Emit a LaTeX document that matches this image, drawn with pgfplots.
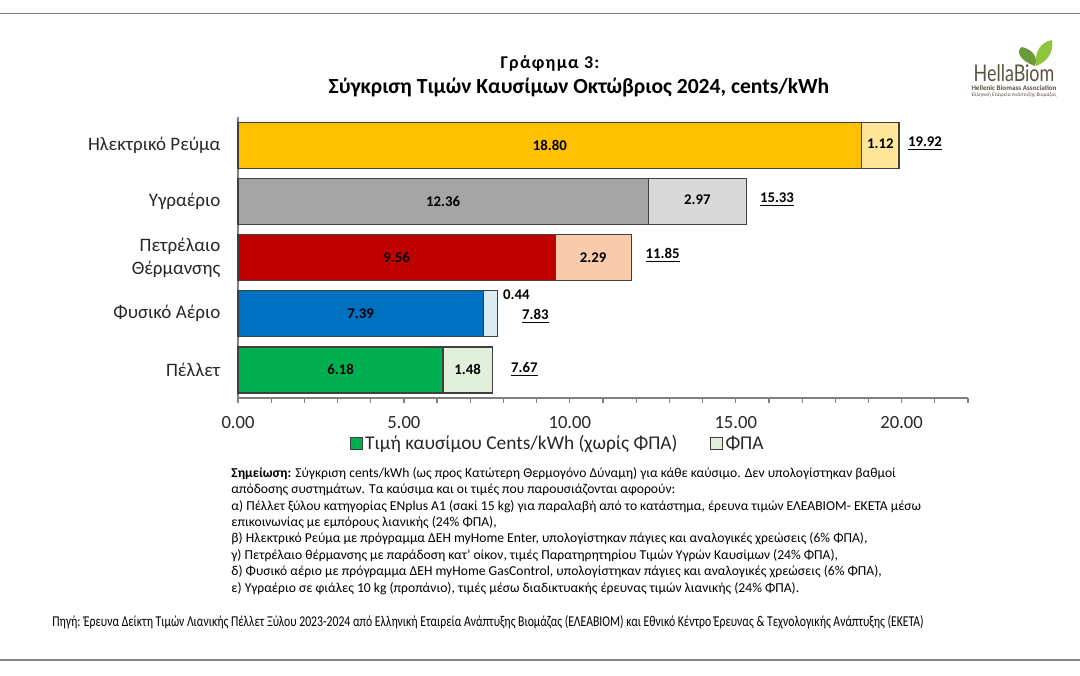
\documentclass[border=0pt]{standalone}
\usepackage{fontspec}
\setmainfont{Carlito}
\newfontfamily\logofont[FakeStretch=0.78]{Lato}
\newfontfamily\srcfont[FakeStretch=0.78]{Carlito}
\usepackage{pgfplots}
\pgfplotsset{compat=1.18}
\definecolor{elA}{HTML}{FFC000}\definecolor{elB}{HTML}{FFE699}
\definecolor{lpgA}{HTML}{A5A5A5}\definecolor{lpgB}{HTML}{D9D9D9}
\definecolor{oilA}{HTML}{C00000}\definecolor{oilB}{HTML}{F8CBAD}
\definecolor{gasA}{HTML}{0070C0}\definecolor{gasB}{HTML}{DDEBF7}
\definecolor{pelA}{HTML}{00B050}\definecolor{pelB}{HTML}{E2EFDA}
\definecolor{bord}{HTML}{3F3F3F}
\definecolor{axgray}{HTML}{808080}
\definecolor{txt}{HTML}{262626}
\definecolor{leafA}{HTML}{6A9A3A}\definecolor{leafB}{HTML}{8DC63F}
\definecolor{logotxt}{HTML}{5B5140}
\begin{document}
\begin{tikzpicture}[
  lab/.style={font=\bfseries\fontsize{7.4}{8.5}\selectfont, text=black},
  tot/.style={font=\bfseries\fontsize{7.4}{8.5}\selectfont, text=black, anchor=west, inner sep=0pt},
]
\useasboundingbox (0,0) rectangle (540pt,-337.5pt);
% frame lines
\draw[axgray, line width=0.75pt] (0,-6.75pt) -- (540pt,-6.75pt);
\draw[axgray!95, line width=1pt] (0,-330pt) -- (540pt,-330pt);
% titles
\node[font=\bfseries\fontsize{9}{11}\selectfont\addfontfeature{LetterSpace=7}, text=black] at (275pt,-31.5pt) {Γράφημα 3:};
\node[font=\bfseries\fontsize{10.8}{13}\selectfont, text=black] at (289.5pt,-44pt) {Σύγκριση Τιμών Καυσίμων Οκτώβριος 2024, cents/kWh};
% logo
\fill[leafA] (517.5pt,-33pt) .. controls (509pt,-30pt) and (508pt,-25pt) .. (511pt,-23.5pt) .. controls (517pt,-25pt) and (519pt,-29pt) .. cycle;
\fill[leafB] (518pt,-33pt) .. controls (517pt,-25pt) and (521pt,-21pt) .. (526pt,-20pt) .. controls (527pt,-27pt) and (523pt,-31pt) .. cycle;
\node[font=\logofont\fontsize{11.5}{12}\selectfont, text=logotxt, inner sep=0pt] at (507pt,-36.5pt) {HellaBiom};
\node[inner sep=0pt, text=logotxt] at (507pt,-44pt) {\resizebox{42.5pt}{!}{\bfseries Hellenic Biomass Association}};
\node[inner sep=0pt, text=logotxt] at (507pt,-47.5pt) {\resizebox{42.5pt}{!}{Ελληνική Εταιρεία Ανάπτυξης Βιομάζας}};
\begin{axis}[
  at={(119pt,-199pt)}, anchor=south west,
  width=365pt, height=140.5pt, scale only axis,
  xmin=0, xmax=22, ymin=-0.5, ymax=4.5,
  xbar, bar width=23pt, bar shift=0pt,
  axis x line*=bottom, axis y line*=left,
  axis line style={draw=axgray, line width=0.6pt},
  xtick={0,...,22},
  xticklabels={0.00,,,,,5.00,,,,,10.00,,,,,15.00,,,,,20.00,,},
  tick align=outside, major tick length=2.5pt,
  xtick style={draw=axgray, line width=0.6pt},
  ytick={0,...,4},
  yticklabels={Πέλλετ, Φυσικό Αέριο, {Πετρέλαιο\hspace{2pt}\\Θέρμανσης}, Υγραέριο, Ηλεκτρικό Ρεύμα},
  ytick style={draw=none},
  yticklabel style={font=\fontsize{9.5}{11.6}\selectfont, text=txt, align=right, xshift=-2.8pt},
  xticklabel style={font=\fontsize{9.3}{11.6}\selectfont, text=txt, yshift=-3pt},
  legend columns=2,
  legend image code/.code={\draw[#1] (0pt,-3pt) rectangle (6pt,3pt);},
  legend style={draw=none, fill=none, at={(0.438,-0.163)}, anchor=center,
    font=\fontsize{9.7}{11.8}\selectfont, text=txt,
    /tikz/every even column/.append style={column sep=15pt},
    nodes={inner sep=1.2pt}},
  clip=false,
  every axis plot/.append style={draw=bord, line width=0.6pt},
]
% totals drawn first (VAT colour), then the net price on top
\addplot[fill=elB, forget plot] coordinates {(19.92,4)};
\addplot[fill=elA, forget plot] coordinates {(18.80,4)};
\addplot[fill=lpgB, forget plot] coordinates {(15.33,3)};
\addplot[fill=lpgA, forget plot] coordinates {(12.36,3)};
\addplot[fill=oilB, forget plot] coordinates {(11.85,2)};
\addplot[fill=oilA, forget plot] coordinates {(9.56,2)};
\addplot[fill=gasB, forget plot] coordinates {(7.83,1)};
\addplot[fill=gasA, forget plot] coordinates {(7.39,1)};
\addplot[fill=pelB, forget plot] coordinates {(7.67,0)};
\addplot[fill=pelA, forget plot] coordinates {(6.18,0)};
\addlegendimage{fill=pelA, draw=bord, line width=0.6pt}
\addlegendentry{Τιμή καυσίμου Cents/kWh (χωρίς ΦΠΑ)}
\addlegendimage{fill=pelB, draw=bord, line width=0.6pt}
\addlegendentry{ΦΠΑ}
% value labels
\node[lab] at (axis cs:9.40,4) {18.80};
\node[lab] at (axis cs:19.36,4.03) {1.12};
\node[tot] at (axis cs:20.18,4.03) {\underline{19.92}};
\node[lab] at (axis cs:6.18,3) {12.36};
\node[lab] at (axis cs:13.845,3.03) {2.97};
\node[tot] at (axis cs:15.72,3.03) {\underline{15.33}};
\node[lab] at (axis cs:4.78,2) {9.56};
\node[lab] at (axis cs:10.705,2) {2.29};
\node[tot] at (axis cs:12.27,2.03) {\underline{11.85}};
\node[lab] at (axis cs:3.695,1) {7.39};
\node[tot] at (axis cs:7.98,1.333) {0.44};
\node[tot] at (axis cs:8.55,0.96) {\underline{7.83}};
\node[lab] at (axis cs:3.09,0) {6.18};
\node[lab] at (axis cs:6.92,0) {1.48};
\node[tot] at (axis cs:8.22,0) {\underline{7.67}};
\end{axis}
% note
\node[anchor=north west, inner sep=0pt, align=left, font=\fontsize{6.8}{8.2}\selectfont, text=black] at (115.5pt,-233.5pt) {%
\textbf{Σημείωση:} Σύγκριση cents/kWh (ως προς Κατώτερη Θερμογόνο Δύναμη) για κάθε καύσιμο. Δεν υπολογίστηκαν βαθμοί\\
απόδοσης συστημάτων. Τα καύσιμα και οι τιμές που παρουσιάζονται αφορούν:\\
α) Πέλλετ ξύλου κατηγορίας ENplus A1 (σακί 15 kg) για παραλαβή από το κατάστημα, έρευνα τιμών ΕΛΕΑΒΙΟΜ- ΕΚΕΤΑ μέσω\\
επικοινωνίας με εμπόρους λιανικής (24\% ΦΠΑ),\\
β) Ηλεκτρικό Ρεύμα με πρόγραμμα ΔΕΗ myHome Enter, υπολογίστηκαν πάγιες και αναλογικές χρεώσεις (6\% ΦΠΑ),\\
γ) Πετρέλαιο θέρμανσης με παράδοση κατ' οίκον, τιμές Παρατηρητηρίου Τιμών Υγρών Καυσίμων (24\% ΦΠΑ),\\
δ) Φυσικό αέριο με πρόγραμμα ΔΕΗ myHome GasControl, υπολογίστηκαν πάγιες και αναλογικές χρεώσεις (6\% ΦΠΑ),\\
ε) Υγραέριο σε φιάλες 10 kg (προπάνιο), τιμές μέσω διαδικτυακής έρευνας τιμών λιανικής (24\% ΦΠΑ).};
% source
\node[anchor=west, inner sep=0pt, font=\srcfont\fontsize{7.5}{9}\selectfont, text=black] at (26pt,-311pt) {Πηγή: Έρευνα Δείκτη Τιμών Λιανικής Πέλλετ Ξύλου 2023-2024 από Ελληνική Εταιρεία Ανάπτυξης Βιομάζας (ΕΛΕΑΒΙΟΜ) και Εθνικό Κέντρο Έρευνας \& Τεχνολογικής Ανάπτυξης (ΕΚΕΤΑ)};
\end{tikzpicture}
\end{document}
